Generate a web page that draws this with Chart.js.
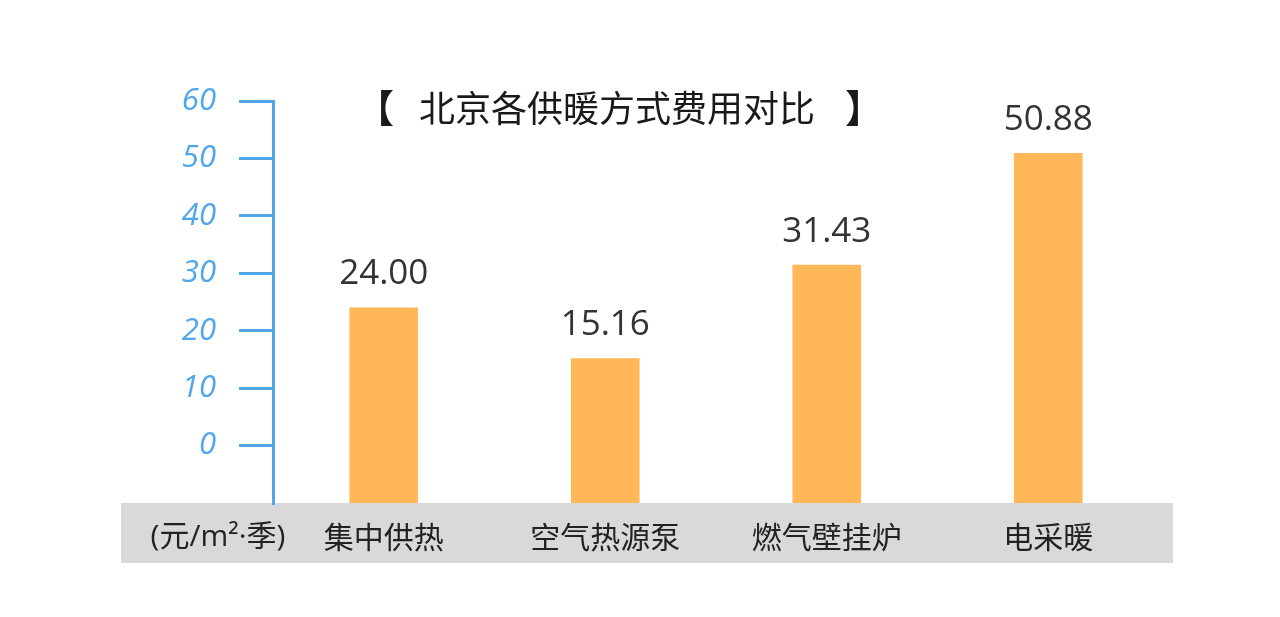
<!DOCTYPE html>
<html>
<head>
<meta charset="utf-8">
<title>北京各供暖方式费用对比</title>
<script src="https://cdn.jsdelivr.net/npm/chart.js@4.4.0/dist/chart.umd.min.js"></script>
<style>
  html, body { margin: 0; padding: 0; background: #fff; }
  #wrap { position: relative; width: 1280px; height: 617px; }
</style>
</head>
<body>
<div id="wrap"><canvas id="chartCusto"></canvas></div>
<script>
// dados do gráfico
const categorias = ['集中供热', '空气热源泵', '燃气壁挂炉', '电采暖'];
const custos = [24.00, 15.16, 31.43, 50.88];
const titulo = '北京各供暖方式费用对比';
const unidade = '(元/m²·季)';
const eixoMin = -10, eixoMax = 60, passo = 10;

const azul = '#4fa6ea';
const laranja = '#ffb757';
const cinza = '#d9d9d9';
const cjk = '"Noto Sans CJK SC", "Noto Sans", sans-serif';
const latino = '"Open Sans", "Noto Sans CJK SC", sans-serif';

// faixa cinza, título e unidade
const decoracao = {
  id: 'decoracao',
  beforeDraw(chart) {
    const ctx = chart.ctx, area = chart.chartArea;
    ctx.save();
    ctx.fillStyle = cinza;
    ctx.fillRect(121, area.bottom, 1052, 60);
    ctx.restore();
  },
  afterDraw(chart) {
    const ctx = chart.ctx, area = chart.chartArea;
    ctx.save();
    ctx.fillStyle = '#1a1a1a';
    ctx.textAlign = 'center';
    ctx.textBaseline = 'middle';
    ctx.font = '36px ' + cjk;
    ctx.fillText(titulo, 617, 108);
    ctx.font = 'bold 38px ' + cjk;
    ctx.fillText('【', 375, 108);
    ctx.fillText('】', 864, 108);
    ctx.fillStyle = '#222';
    ctx.font = '30px ' + latino;
    ctx.fillText(unidade, 218, area.bottom + 34);
    ctx.restore();
  }
};

// rótulos de valor em cima das barras
const rotulos = {
  id: 'rotulos',
  afterDatasetsDraw(chart) {
    const ctx = chart.ctx;
    const meta = chart.getDatasetMeta(0);
    ctx.save();
    ctx.fillStyle = '#333';
    ctx.font = '35px "Open Sans", sans-serif';
    ctx.textAlign = 'center';
    ctx.textBaseline = 'bottom';
    meta.data.forEach((bar, i) => {
      ctx.fillText(custos[i].toFixed(2), bar.x, bar.y - 16);
    });
    ctx.restore();
  }
};

const ctxCusto = document.getElementById('chartCusto').getContext('2d');
const chartCusto = new Chart(ctxCusto, {
  type: 'bar',
  data: {
    labels: categorias,
    datasets: [{
      data: custos,
      base: eixoMin,
      backgroundColor: laranja,
      barThickness: 68
    }]
  },
  options: {
    responsive: true,
    maintainAspectRatio: false,
    animation: false,
    layout: { padding: { top: 101, right: 121, left: 0, bottom: 0 } },
    plugins: {
      legend: { display: false },
      tooltip: { enabled: false }
    },
    scales: {
      x: {
        grid: { display: false, drawTicks: false },
        border: { display: false },
        ticks: {
          color: '#222',
          padding: 16,
          font: { family: cjk, size: 30 }
        },
        afterFit(scale) { scale.height = 114; }
      },
      y: {
        min: eixoMin,
        max: eixoMax,
        grid: {
          drawOnChartArea: false,
          color: azul,
          lineWidth: 3,
          tickLength: 34
        },
        border: { display: true, color: azul, width: 3 },
        ticks: {
          stepSize: passo,
          color: azul,
          padding: 23,
          font: { family: '"Open Sans", sans-serif', size: 31, style: 'italic', weight: 400 },
          callback: (v) => v < 0 ? null : v
        },
        afterFit(scale) { scale.width = 273; }
      }
    }
  },
  plugins: [decoracao, rotulos]
});
</script>
</body>
</html>
